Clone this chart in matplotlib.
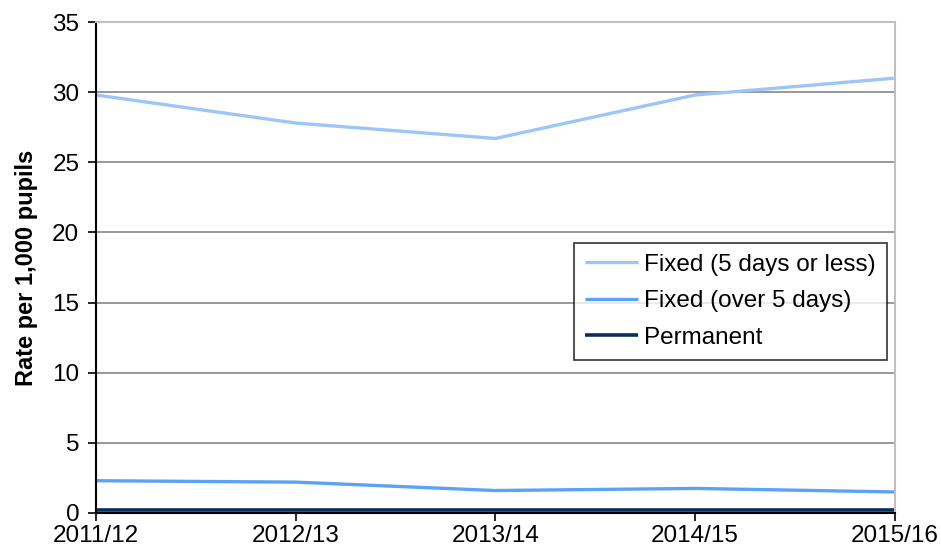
import numpy as np
import matplotlib
matplotlib.use("Agg")
import matplotlib.pyplot as plt

plt.rcParams['font.family'] = ['Liberation Sans', 'DejaVu Sans']

# data
years = ["2011/12", "2012/13", "2013/14", "2014/15", "2015/16"]
fixed_short = [29.8, 27.8, 26.7, 29.8, 31.0]
fixed_long = [2.3, 2.2, 1.6, 1.75, 1.5]
permanent = [0.2, 0.2, 0.2, 0.2, 0.2]

fig = plt.figure(figsize=(9.41, 5.51), dpi=100)
ax = fig.add_axes([0.102, 0.069, 0.849, 0.891])

x = np.arange(len(years))
ax.plot(x, fixed_short, color="#9ec5f8", lw=2.4, label="Fixed (5 days or less)", solid_capstyle="butt")
ax.plot(x, fixed_long, color="#5ba3f5", lw=2.4, label="Fixed (over 5 days)", solid_capstyle="butt")
ax.plot(x, permanent, color="#0b2d5e", lw=2.6, label="Permanent", solid_capstyle="butt")

ax.set_xlim(0, len(years) - 1)
ax.set_ylim(0, 35)
ax.set_xticks(x)
ax.set_xticklabels(years)
ax.set_yticks(np.arange(0, 36, 5))
ax.yaxis.grid(True, color="#868686", lw=1.2)
ax.set_axisbelow(True)

for s in ["top", "right"]:
    ax.spines[s].set_color("#c0c0c0")
    ax.spines[s].set_linewidth(1.5)
for s in ["left", "bottom"]:
    ax.spines[s].set_color("black")
    ax.spines[s].set_linewidth(1.5)

ax.tick_params(axis="both", labelsize=17.5, direction="out", length=6, width=1.2, colors="black")
ax.tick_params(axis="x", pad=3)
ax.tick_params(axis="y", pad=6)
ax.set_ylabel("Rate per 1,000 pupils", fontsize=17, fontweight="bold", labelpad=10)

leg = ax.legend(loc="center right", bbox_to_anchor=(0.99, 0.431), borderaxespad=0,
                fontsize=17.5, frameon=True, fancybox=False, edgecolor="black",
                handlelength=2.2, handletextpad=0.25, borderpad=0.45, labelspacing=0.6)
leg.get_frame().set_linewidth(1.2)

fig.savefig("out.png", dpi=100)
